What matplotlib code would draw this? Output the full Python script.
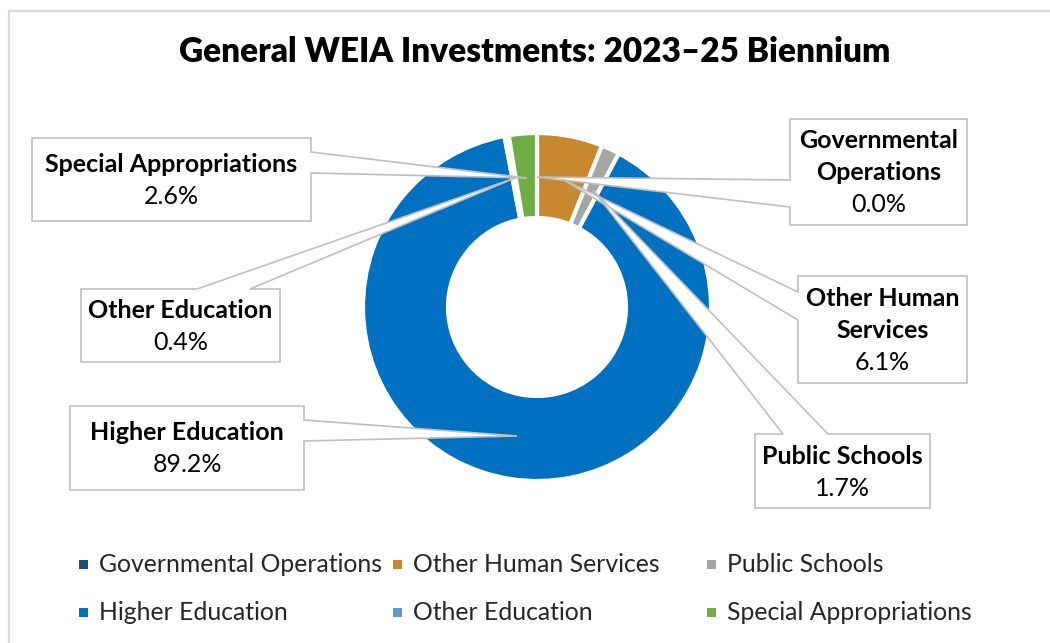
import matplotlib.pyplot as plt
from matplotlib.patches import Polygon, Rectangle

categories = ['Governmental Operations', 'Other Human Services', 'Public Schools',
              'Higher Education', 'Other Education', 'Special Appropriations']
shares = [0.0, 6.1, 1.7, 89.2, 0.4, 2.6]
colors = ['#1F4E79', '#C8892E', '#A5A5A5', '#0070C0', '#5B9BD5', '#70AD47']
label_lines = [['Governmental', 'Operations'], ['Other Human', 'Services'], ['Public Schools'],
               ['Higher Education'], ['Other Education'], ['Special Appropriations']]

title = 'General WEIA Investments: 2023\u201325 Biennium'

# callout layout in pixels: box (x0, y0, x1, y1), side the pointer leaves from,
# the two base points on that side, and the pointer tip
callouts = [
    ((790, 119, 967, 225), 'left', (180, 207), (537, 177)),
    ((798, 276, 967, 383), 'left', (292, 320), (562, 179)),
    ((755, 434, 930, 508), 'top', (783, 828), (593, 190)),
    ((70, 406, 304, 490), 'right', (420, 441), (517, 436)),
    ((81, 289, 280, 362), 'top', (197, 250), (515, 178)),
    ((32, 138, 311, 221), 'right', (152, 173), (527, 178)),
]

W, H = 1050, 643
FONT = 'Lato'

fig = plt.figure(figsize=(10.5, 6.43), dpi=100)
ax = fig.add_axes([0, 0, 1, 1])

# donut, clockwise from the top (y axis is inverted below)
ax.pie(shares, colors=colors, center=(537, 307), radius=174,
       startangle=270, counterclock=True,
       wedgeprops=dict(width=85, edgecolor='white', linewidth=3))

ax.set_xlim(0, W)
ax.set_ylim(H, 0)
ax.set_aspect('equal')
ax.axis('off')

# chart border
ax.plot([9, 9, W], [H, 11, 11], color='#D9D9D9', lw=1.6, solid_joinstyle='miter')

ax.text(535, 52, title, ha='center', va='center', fontsize=24,
        fontweight='heavy', family=FONT, color='black')


def callout_points(box, side, base, tip):
    x0, y0, x1, y1 = box
    a, b = base
    if side == 'right':
        return [(x0, y0), (x1, y0), (x1, a), tip, (x1, b), (x1, y1), (x0, y1)]
    if side == 'left':
        return [(x0, y0), (x1, y0), (x1, y1), (x0, y1), (x0, b), tip, (x0, a)]
    return [(x0, y0), (a, y0), tip, (b, y0), (x1, y0), (x1, y1), (x0, y1)]


for i, (box, side, base, tip) in enumerate(callouts):
    pts = callout_points(box, side, base, tip)
    ax.add_patch(Polygon(pts, closed=True, facecolor='white', edgecolor='#BFBFBF',
                         lw=1.2, zorder=5))
    lines = label_lines[i] + [f'{shares[i]:.1f}%']
    xc = (box[0] + box[2]) / 2
    yc = (box[1] + box[3]) / 2
    step = 32
    y = yc - (len(lines) - 1) / 2 * step + 1
    for j, ln in enumerate(lines):
        bold = j < len(lines) - 1
        ax.text(xc, y, ln, ha='center', va='center', fontsize=18, family=FONT,
                fontweight='bold' if bold else 'normal', color='black', zorder=6)
        y += step

# legend, three equal columns
for i, name in enumerate(categories):
    col, row = i % 3, i // 3
    x = 79 + col * 314
    y = 564 + row * 48
    ax.add_patch(Rectangle((x, y - 4.5), 9, 9, facecolor=colors[i], edgecolor='none'))
    ax.text(x + 20, y, name, ha='left', va='center', fontsize=17.8, family=FONT,
            color='#262626')

fig.savefig('out.png', dpi=100)
